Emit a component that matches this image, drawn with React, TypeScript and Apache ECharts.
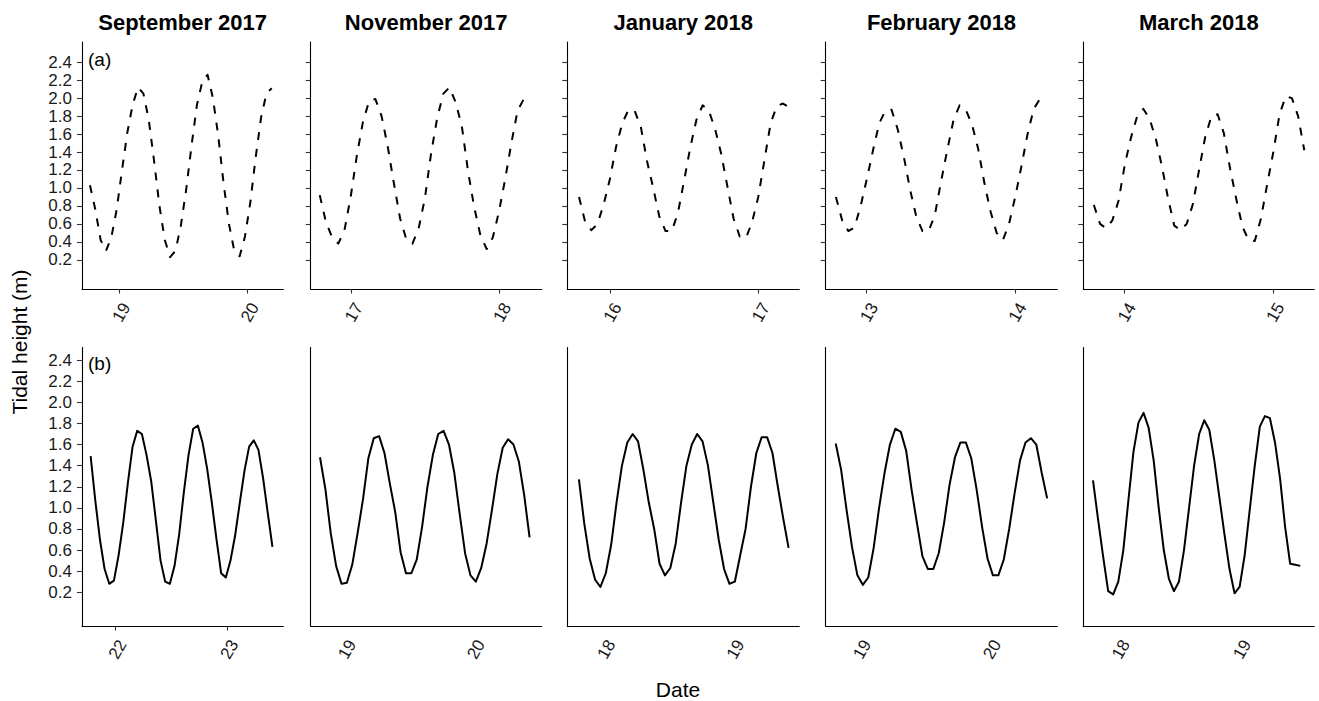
import React, { useEffect, useRef } from "react";
import * as echarts from "echarts";

// Panel titles (one per sampling month)
const months = ["September 2017", "November 2017", "January 2018", "February 2018", "March 2018"];
const rowTags = ["(a)", "(b)"];

// Row (a): first record time (day of month) and hourly tidal heights (m)
const startA = [18.774, 16.787, 15.791, 12.793, 13.795];
const heightA1 = [1.03, 0.76, 0.42, 0.3, 0.45, 0.76, 1.2, 1.62, 1.93, 2.12, 2.05, 1.76, 1.3, 0.8, 0.42, 0.23, 0.3, 0.58, 0.98, 1.47, 1.92, 2.18, 2.26, 2.0, 1.58, 1.05, 0.6, 0.3, 0.24, 0.46, 0.84, 1.34, 1.78, 2.05, 2.11];
const heightA2 = [0.92, 0.62, 0.45, 0.38, 0.53, 0.9, 1.36, 1.74, 1.97, 1.99, 1.8, 1.46, 1.05, 0.66, 0.43, 0.38, 0.55, 0.88, 1.38, 1.78, 2.05, 2.12, 1.95, 1.68, 1.18, 0.78, 0.47, 0.32, 0.45, 0.74, 1.1, 1.5, 1.86, 1.99, 1.94];
const heightA3 = [0.9, 0.62, 0.53, 0.6, 0.82, 1.1, 1.46, 1.72, 1.87, 1.86, 1.68, 1.3, 1.0, 0.68, 0.52, 0.52, 0.72, 1.08, 1.45, 1.76, 1.92, 1.86, 1.66, 1.38, 1.02, 0.66, 0.46, 0.44, 0.62, 0.9, 1.31, 1.72, 1.91, 1.94, 1.9];
const heightA4 = [0.9, 0.64, 0.52, 0.56, 0.8, 1.1, 1.42, 1.72, 1.86, 1.87, 1.65, 1.34, 0.98, 0.68, 0.52, 0.52, 0.7, 1.07, 1.42, 1.75, 1.92, 1.87, 1.71, 1.44, 1.06, 0.74, 0.5, 0.42, 0.6, 0.9, 1.24, 1.6, 1.88, 1.99];
const heightA5 = [0.81, 0.6, 0.55, 0.64, 0.86, 1.26, 1.56, 1.8, 1.88, 1.77, 1.55, 1.24, 0.88, 0.58, 0.53, 0.6, 0.82, 1.2, 1.57, 1.8, 1.82, 1.61, 1.22, 0.88, 0.57, 0.42, 0.41, 0.66, 1.04, 1.4, 1.82, 2.02, 2.0, 1.8, 1.42];

// Row (b): first record time (day of month) and hourly tidal heights (m)
const startB = [21.782, 18.81, 17.806, 18.817, 17.791];
const heightB1 = [1.49, 1.07, 0.7, 0.42, 0.28, 0.31, 0.55, 0.86, 1.24, 1.58, 1.73, 1.7, 1.5, 1.25, 0.88, 0.5, 0.3, 0.28, 0.45, 0.75, 1.15, 1.5, 1.75, 1.78, 1.62, 1.37, 1.05, 0.7, 0.38, 0.34, 0.5, 0.74, 1.05, 1.35, 1.58, 1.64, 1.55, 1.28, 0.95, 0.63];
const heightB2 = [1.48, 1.18, 0.76, 0.45, 0.28, 0.29, 0.46, 0.76, 1.08, 1.47, 1.66, 1.68, 1.52, 1.23, 0.96, 0.58, 0.38, 0.38, 0.51, 0.82, 1.2, 1.5, 1.7, 1.73, 1.6, 1.33, 0.94, 0.57, 0.36, 0.3, 0.43, 0.66, 0.98, 1.32, 1.57, 1.65, 1.6, 1.44, 1.12, 0.72];
const heightB3 = [1.27, 0.85, 0.52, 0.32, 0.25, 0.38, 0.65, 1.05, 1.4, 1.62, 1.7, 1.63, 1.36, 1.05, 0.8, 0.47, 0.36, 0.43, 0.66, 1.05, 1.4, 1.6, 1.7, 1.63, 1.4, 1.05, 0.7, 0.42, 0.28, 0.3, 0.55, 0.8, 1.2, 1.52, 1.67, 1.67, 1.52, 1.2, 0.9, 0.62];
const heightB4 = [1.61, 1.36, 0.98, 0.63, 0.36, 0.27, 0.34, 0.62, 1.0, 1.33, 1.6, 1.75, 1.72, 1.54, 1.17, 0.85, 0.54, 0.42, 0.42, 0.57, 0.86, 1.22, 1.48, 1.62, 1.62, 1.47, 1.17, 0.82, 0.52, 0.36, 0.36, 0.51, 0.8, 1.14, 1.45, 1.62, 1.66, 1.6, 1.33, 1.09];
const heightB5 = [1.26, 0.89, 0.54, 0.21, 0.18, 0.3, 0.6, 1.07, 1.53, 1.81, 1.9, 1.76, 1.45, 1.0, 0.6, 0.33, 0.21, 0.3, 0.6, 1.0, 1.4, 1.7, 1.83, 1.74, 1.45, 1.1, 0.75, 0.42, 0.19, 0.25, 0.55, 0.98, 1.4, 1.77, 1.87, 1.85, 1.62, 1.28, 0.82, 0.47, 0.46, 0.45];

const heightsA = [heightA1, heightA2, heightA3, heightA4, heightA5];
const heightsB = [heightB1, heightB2, heightB3, heightB4, heightB5];

// Date axis extents (day of month) and labelled days
const dayRangeA = [[18.712, 20.281], [16.726, 18.283], [15.712, 17.276], [12.724, 14.285], [13.724, 15.279]];
const dayRangeB = [[21.705, 23.504], [18.738, 20.529], [17.716, 19.514], [18.74, 20.52], [17.711, 19.615]];
const dayTicksA = [[19, 20], [17, 18], [16, 17], [13, 14], [14, 15]];
const dayTicksB = [[22, 23], [19, 20], [18, 19], [19, 20], [18, 19]];

// Height axis
const heightTicks = [0.2, 0.4, 0.6, 0.8, 1.0, 1.2, 1.4, 1.6, 1.8, 2.0, 2.2, 2.4];
const heightRangeA = [-0.125, 2.625];
const heightRangeB = [-0.12, 2.52];

// Panel layout (px)
const colLeft = [82, 310.7, 567.3, 825.7, 1083.3];
const colWidth = [201.3, 231, 232, 231.6, 231];
const rowTop = [42, 347.5];
const rowHeight = [247, 278.5];

const FONT = '"Liberation Sans", Arial, sans-serif';
const TEXT_COLOR = "#1a1a1a";
const TICK_FONT_SIZE = 17;

function buildOption() {
  const grid: any[] = [];
  const xAxis: any[] = [];
  const yAxis: any[] = [];
  const series: any[] = [];

  for (let row = 0; row < 2; row++) {
    for (let col = 0; col < 5; col++) {
      const idx = row * 5 + col;
      const values = row === 0 ? heightsA[col] : heightsB[col];
      const start = row === 0 ? startA[col] : startB[col];
      const xr = row === 0 ? dayRangeA[col] : dayRangeB[col];
      const yr = row === 0 ? heightRangeA : heightRangeB;
      const days = row === 0 ? dayTicksA[col] : dayTicksB[col];
      const withTicks = row === 0 || col === 0;

      grid.push({
        left: colLeft[col],
        width: colWidth[col],
        top: rowTop[row],
        height: rowHeight[row],
        containLabel: false,
      });

      xAxis.push({
        type: "value",
        gridIndex: idx,
        min: xr[0],
        max: xr[1],
        axisLine: { show: true, onZero: false, lineStyle: { color: "#000", width: 1.1 } },
        axisTick: {
          show: withTicks,
          length: 4.5,
          customValues: days,
          lineStyle: { color: "#333", width: 1.1 },
        },
        axisLabel: {
          show: true,
          customValues: days,
          rotate: 60,
          align: "right",
          verticalAlign: "top",
          margin: 11,
          fontSize: TICK_FONT_SIZE,
          fontFamily: FONT,
          color: TEXT_COLOR,
          formatter: (v: number) => String(Math.round(v)),
        },
        splitLine: { show: false },
      });

      yAxis.push({
        type: "value",
        gridIndex: idx,
        min: yr[0],
        max: yr[1],
        axisLine: { show: true, onZero: false, lineStyle: { color: "#000", width: 1.1 } },
        axisTick: {
          show: withTicks,
          length: 5,
          customValues: heightTicks,
          lineStyle: { color: "#333", width: 1.1 },
        },
        axisLabel: {
          show: col === 0,
          customValues: heightTicks,
          margin: 10,
          fontSize: TICK_FONT_SIZE,
          fontFamily: FONT,
          color: TEXT_COLOR,
          formatter: (v: number) => v.toFixed(1),
        },
        splitLine: { show: false },
      });

      series.push({
        type: "line",
        xAxisIndex: idx,
        yAxisIndex: idx,
        data: values.map((v, i) => [start + i / 24, v]),
        symbol: "none",
        showSymbol: false,
        silent: true,
        lineStyle:
          row === 0
            ? { color: "#000", width: 2, type: [8, 9], cap: "butt", join: "round" }
            : { color: "#000", width: 2, type: "solid", join: "round" },
      });
    }
  }

  const graphic: any[] = [];
  months.forEach((m, c) => {
    graphic.push({
      type: "text",
      x: colLeft[c] + colWidth[c] / 2,
      y: 22,
      style: {
        text: m,
        fontSize: 22,
        fontWeight: "bold",
        fontFamily: FONT,
        fill: "#000",
        align: "center",
        verticalAlign: "middle",
      },
    });
  });
  rowTags.forEach((t, r) => {
    graphic.push({
      type: "text",
      x: 88,
      y: r === 0 ? 59 : 363,
      style: {
        text: t,
        fontSize: 19,
        fontFamily: FONT,
        fill: "#000",
        align: "left",
        verticalAlign: "middle",
      },
    });
  });
  graphic.push({
    type: "text",
    x: 19,
    y: 342,
    rotation: Math.PI / 2,
    style: {
      text: "Tidal height (m)",
      fontSize: 21,
      fontFamily: FONT,
      fill: "#000",
      align: "center",
      verticalAlign: "middle",
    },
  });
  graphic.push({
    type: "text",
    x: 678,
    y: 689,
    style: {
      text: "Date",
      fontSize: 21,
      fontFamily: FONT,
      fill: "#000",
      align: "center",
      verticalAlign: "middle",
    },
  });

  return {
    animation: false,
    backgroundColor: "#fff",
    grid,
    xAxis,
    yAxis,
    series,
    graphic,
  };
}

export default function App() {
  const ref = useRef<HTMLDivElement>(null);

  useEffect(() => {
    if (!ref.current) return;
    const chart = echarts.init(ref.current, undefined, { renderer: "svg" });
    chart.setOption(buildOption() as any);
    return () => chart.dispose();
  }, []);

  return (
    <div
      ref={ref}
      style={{ position: "absolute", left: 0, top: 0, width: 1319, height: 701, background: "#fff" }}
    />
  );
}
